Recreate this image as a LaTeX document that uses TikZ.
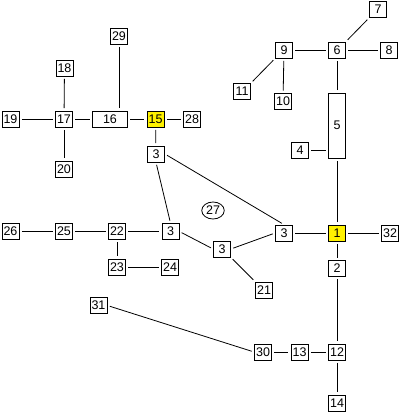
\documentclass[tikz,border=0pt]{standalone}
\usepackage{fontspec}
\setmainfont{Liberation Sans}
\usetikzlibrary{positioning, calc, shapes.geometric}

\begin{document}
\begin{tikzpicture}[
    x=1pt, y=-1pt,
    every node/.style={draw, line width=0.8pt, font=\fontsize{12.5}{13}\selectfont,
        inner sep=1pt, minimum width=17pt, minimum height=16pt, fill=white},
    ynode/.style={fill=yellow},
    onode/.style={ellipse, minimum width=22pt, minimum height=17pt, fill=none},
    link/.style={line width=0.8pt, shorten <=2.5pt, shorten >=2.5pt},
]
\useasboundingbox (0,0) rectangle (400,420);

% left cluster
\node (n29) at (119,36) {29};
\node (n18) at (64.5,68) {18};
\node (n19) at (10.5,119) {19};
\node (n17) at (64,119) {17};
\node[minimum width=35pt] (n16) at (110,119) {16};
\node[ynode] (n15) at (155.5,119) {15};
\node (n28) at (192,119) {28};
\node (n20) at (64,169) {20};
\node (n3a) at (156,154) {3};

% upper right
\node (n7) at (378,9.5) {7};
\node (n9) at (284,50) {9};
\node (n6) at (337,50) {6};
\node (n8) at (389,50) {8};
\node (n11) at (242,91.5) {11};
\node (n10) at (283,101.5) {10};
\node[minimum height=65pt] (n5) at (337,125.5) {5};
\node (n4) at (300,150.5) {4};

% middle row
\node (n26) at (10.5,231.5) {26};
\node (n25) at (64,231.5) {25};
\node (n22) at (117,231.5) {22};
\node (n3b) at (170.5,231.5) {3};
\node (n23) at (117,267) {23};
\node (n24) at (170,267) {24};
\node[onode] (n27) at (213,210.5) {27};
\node (n3c) at (222,249) {3};
\node (n3d) at (284,233) {3};
\node[ynode] (n1) at (337,233) {1};
\node (n32) at (390,233) {32};
\node (n2) at (337,268.5) {2};
\node (n21) at (264,290) {21};

% bottom
\node (n31) at (98.5,305.5) {31};
\node (n30) at (263,352) {30};
\node (n13) at (299.5,352) {13};
\node (n12) at (337,352) {12};
\node (n14) at (337,403) {14};

% connectors
\draw[link] (n19) -- (n17);
\draw[link] (n17) -- (n16);
\draw[link] (n16) -- (n15);
\draw[link] (n15) -- (n28);
\draw[link] (n18) -- (n17);
\draw[link] (n17) -- (n20);
\draw[link] (n29.south) -- (n29.south |- n16.north);
\draw[link] (n15) -- (n3a);
\draw[link] (n3a.south) -- (n3b.north);
\draw[link] (n3a.east) -- (n3d.north);

\draw[link] (n26) -- (n25);
\draw[link] (n25) -- (n22);
\draw[link] (n22) -- (n3b);
\draw[link] (n22) -- (n23);
\draw[link] (n23) -- (n24);
\draw[link] (n3b.east) -- (n3c.west);
\draw[link] (n3c.east) -- (n3d.west);
\draw[link] (n3c.south east) -- (n21.north west);
\draw[link] (n3d) -- (n1);
\draw[link] (n1) -- (n32);
\draw[link] (n1) -- (n2);
\draw[link] (n1) -- (n5);

\draw[link] (n5) -- (n6);
\draw[link] (n9) -- (n6);
\draw[link] (n6) -- (n8);
\draw[link] (n6.north east) -- (n7.south west);
\draw[link] (n9.south west) -- (n11.north east);
\draw[link] (n9) -- (n10);
\draw[link] (n4) -- (n4 -| n5.west);

\draw[link] (n2) -- (n12);
\draw[link] (n31.east) -- (n30.west);
\draw[link] (n30) -- (n13);
\draw[link] (n13) -- (n12);
\draw[link] (n12) -- (n14);

\end{tikzpicture}
\end{document}
